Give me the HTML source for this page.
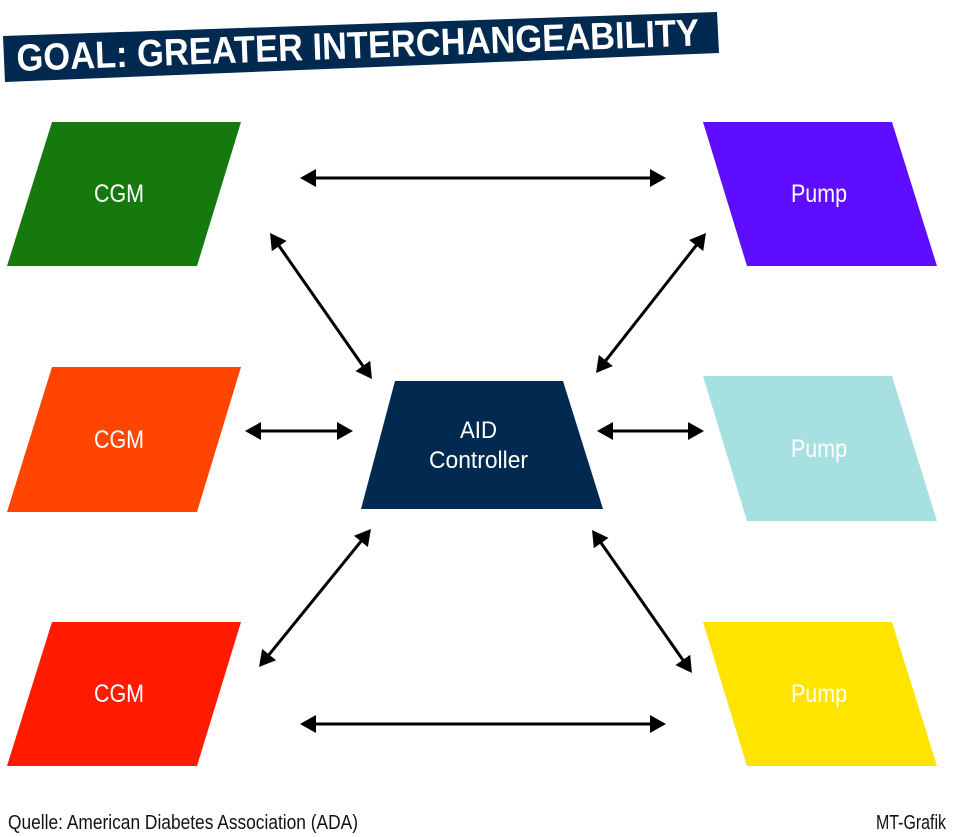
<!DOCTYPE html>
<html>
<head>
<meta charset="utf-8">
<style>
  html, body { margin: 0; padding: 0; background: #ffffff; }
  body { width: 960px; height: 837px; overflow: hidden; }
  svg { display: block; }
  .lbl { font-family: "Liberation Sans Narrow", "Liberation Sans", sans-serif; fill: #ffffff; }
  .ft { font-family: "Liberation Sans Narrow", "Liberation Sans", sans-serif; fill: #111111; }
</style>
</head>
<body>
<svg width="960" height="837" viewBox="0 0 960 837" xmlns="http://www.w3.org/2000/svg">
  <defs>
    <marker id="ah" viewBox="0 0 16 18" refX="11" refY="9" markerWidth="16" markerHeight="18" markerUnits="userSpaceOnUse" orient="auto-start-reverse">
      <path d="M0,0 L16,9 L0,18 Z" fill="#000"/>
    </marker>
  </defs>

  <!-- Title banner -->
  <polygon points="3,36 717,12 719,53 5,82" fill="#02294f"/>
  <text x="17" y="71" transform="rotate(-2.15 17 71)" font-family="'Liberation Sans Narrow','Liberation Sans',sans-serif" font-weight="bold" font-size="38" fill="#ffffff" textLength="683" lengthAdjust="spacingAndGlyphs">GOAL: GREATER INTERCHANGEABILITY</text>

  <!-- CGM parallelograms -->
  <polygon points="52,122 241,122 197,266 7,266" fill="#15790d"/>
  <text class="lbl" x="94" y="202" font-size="25" textLength="50" lengthAdjust="spacingAndGlyphs">CGM</text>

  <polygon points="52,367 241,367 197,512 7,512" fill="#ff4500"/>
  <text class="lbl" x="94" y="448" font-size="25" textLength="50" lengthAdjust="spacingAndGlyphs">CGM</text>

  <polygon points="52,622 241,622 197,766 7,766" fill="#ff1a00"/>
  <text class="lbl" x="94" y="702" font-size="25" textLength="50" lengthAdjust="spacingAndGlyphs">CGM</text>

  <!-- Pump parallelograms -->
  <polygon points="703,122 892,122 937,266 747,266" fill="#5f0dff"/>
  <text class="lbl" x="791" y="202" font-size="25" textLength="56" lengthAdjust="spacingAndGlyphs">Pump</text>

  <polygon points="703,376 892,376 937,521 747,521" fill="#a7e0e0"/>
  <text class="lbl" x="791" y="457" font-size="25" textLength="56" lengthAdjust="spacingAndGlyphs">Pump</text>

  <polygon points="703,622 892,622 937,766 747,766" fill="#ffe400"/>
  <text class="lbl" x="791" y="702" font-size="25" textLength="56" lengthAdjust="spacingAndGlyphs">Pump</text>

  <!-- AID Controller trapezoid -->
  <polygon points="395,381 563,381 603,509 361,509" fill="#022a51"/>
  <text class="lbl" x="460" y="438" font-size="24" textLength="37" lengthAdjust="spacingAndGlyphs">AID</text>
  <text class="lbl" x="429" y="468" font-size="24" textLength="99" lengthAdjust="spacingAndGlyphs">Controller</text>

  <!-- Arrows -->
  <g stroke="#000" stroke-width="3" fill="none" marker-start="url(#ah)" marker-end="url(#ah)">
    <line x1="305" y1="178" x2="661" y2="178"/>
    <line x1="305" y1="724" x2="661" y2="724"/>
    <line x1="250" y1="431" x2="348" y2="431"/>
    <line x1="602" y1="431" x2="699" y2="431"/>
    <line x1="272.9" y1="237.1" x2="369.1" y2="374.9"/>
    <line x1="702.9" y1="236.9" x2="599.1" y2="369.1"/>
    <line x1="367.8" y1="532.9" x2="262.2" y2="663.1"/>
    <line x1="594.9" y1="534.1" x2="689.1" y2="668.9"/>
  </g>

  <!-- Footer -->
  <text class="ft" x="8" y="829" font-size="20" textLength="350" lengthAdjust="spacingAndGlyphs">Quelle: American Diabetes Association (ADA)</text>
  <text class="ft" x="876" y="829" font-size="20" textLength="70" lengthAdjust="spacingAndGlyphs">MT-Grafik</text>
</svg>
</body>
</html>
